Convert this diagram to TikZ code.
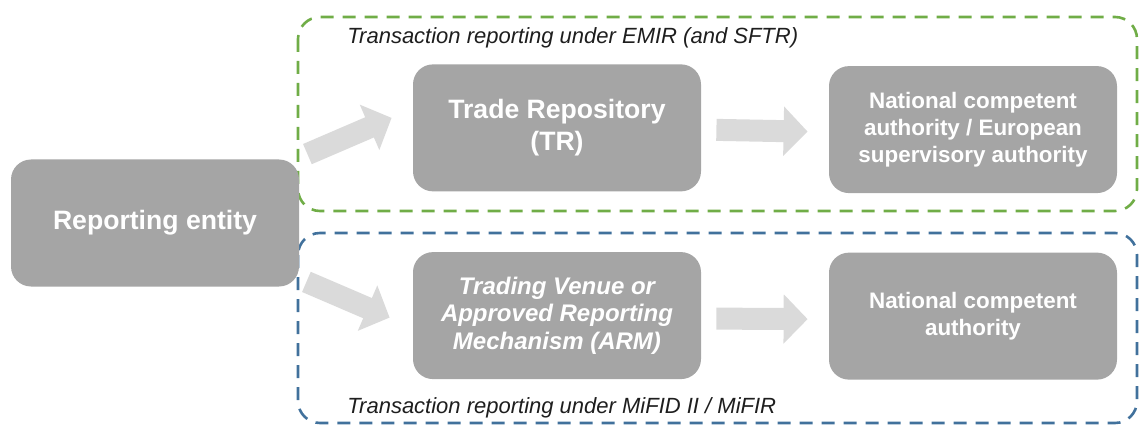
\documentclass[tikz,border=0pt]{standalone}
\usepackage{fontspec}
\setmainfont{Liberation Sans}
\usetikzlibrary{matrix,positioning,arrows.meta}

\definecolor{boxgray}{HTML}{A5A5A5}
\definecolor{arrowgray}{HTML}{DADADA}
\definecolor{emirgreen}{HTML}{70AD47}
\definecolor{mifidblue}{HTML}{41719C}
\definecolor{labelblack}{HTML}{1E1E1E}

\begin{document}
\begin{tikzpicture}[
x=0.5pt,
y=-0.5pt,
box/.style={
  draw=none,
  fill=boxgray,
  rounded corners=10pt,
  text=white,
  minimum width=144pt,
  minimum height=63.5pt,
  inner sep=0pt
  },
big/.style={font=\fontsize{13.3}{15.9}\selectfont\bfseries},
mid/.style={font=\fontsize{12}{13.8}\selectfont\bfseries\itshape},
small/.style={font=\fontsize{11.2}{13.5}\selectfont\bfseries},
grid/.style={
  matrix of nodes,
  nodes={box},
  column sep=64pt,
  row sep=29.5pt
  },
frame/.style={
  rounded corners=11pt,
  line width=1.3pt,
  dash pattern=on 6.5pt off 4.5pt
  },
caption/.style={
  anchor=west,
  inner sep=0pt,
  text=labelblack,
  font=\fontsize{11}{13}\selectfont\itshape
  },
flow/.style={
  draw=arrowgray,
  line width=11pt,
  -{Triangle[length=12pt,width=24pt]}
  }
]
\useasboundingbox (0,0) rectangle (1139,427);

% the two regimes
\draw[frame,emirgreen] (298,17) rectangle (1137,211);
\draw[frame,mifidblue] (298,233) rectangle (1137,423);
\node[caption] (emir) at (347,38) {Transaction reporting under EMIR (and SFTR)};
\node[caption] (mifid) at (347,408) {Transaction reporting under MiFID II / MiFIR};

\node[box,big] (rep) at (155,223) {Reporting entity};

\matrix[grid] (mat) at (765,222)
{
|[big]| \parbox{140pt}{\centering Trade Repository\\(TR)} &
    |[small]| \parbox{140pt}{\centering National competent\\authority / European\\supervisory authority} \\
|[mid]| \parbox{140pt}{\centering Trading Venue or\\Approved Reporting\\Mechanism (ARM)} &
    |[small]| \parbox{140pt}{\centering National competent\\authority} \\
};

\draw[flow] ([shift={(8,-5)}]rep.north east) -- ([shift={(-21,-10)}]mat-1-1.west);
\draw[flow] ([shift={(7,-5)}]rep.south east) -- ([shift={(-23,2)}]mat-2-1.west);
\foreach \r/\dy in {1/2,2/3}
  \draw[flow] ([shift={(15,\dy)}]mat-\r-1.east) -- ([shift={(-21,\dy)}]mat-\r-2.west);
\end{tikzpicture}
\end{document}
